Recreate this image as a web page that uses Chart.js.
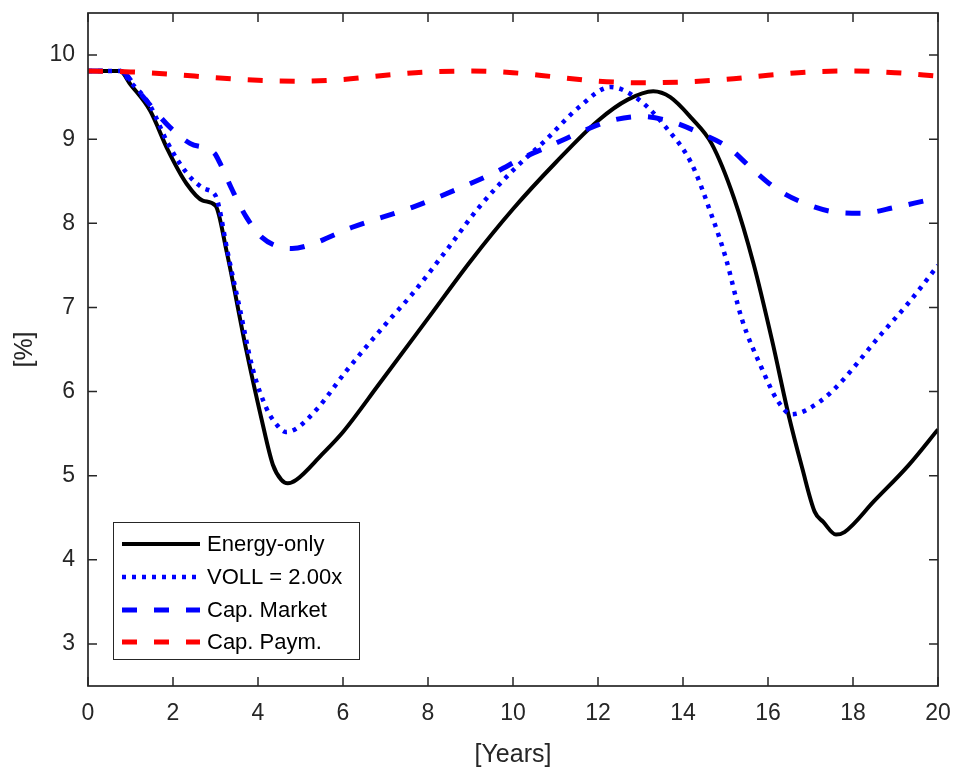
<!DOCTYPE html>
<html>
<head>
<meta charset="utf-8">
<script src="https://cdn.jsdelivr.net/npm/chart.js@4.4.0/dist/chart.umd.min.js"></script>
<style>
  html, body { margin: 0; padding: 0; background: #fff; }
  #wrap { width: 956px; height: 769px; }
</style>
</head>
<body>
<div id="wrap"><canvas id="marginChart" width="956" height="769"></canvas></div>
<script>
// x positions (years) and values (%) for each scenario
const energyOnlyX = [0, 0.75, 1.0, 1.46, 1.88, 2.32, 2.7, 3.0, 3.26, 3.73, 4.08, 4.35, 4.55, 4.7, 4.9, 5.5, 6.0, 6.85, 8, 9, 10, 11, 12, 12.7, 13.3, 13.7, 14.2, 14.67, 15.2, 15.66, 16.1, 16.48, 16.8, 17.1, 17.3, 17.6, 17.8, 18.5, 19.3, 20];
const energyOnlyY = [9.81, 9.81, 9.65, 9.34, 8.87, 8.47, 8.27, 8.21, 7.67, 6.48, 5.68, 5.13, 4.95, 4.91, 4.95, 5.25, 5.52, 6.09, 6.87, 7.55, 8.17, 8.72, 9.22, 9.47, 9.57, 9.5, 9.25, 8.95, 8.3, 7.52, 6.6, 5.73, 5.1, 4.57, 4.45, 4.30, 4.33, 4.7, 5.12, 5.55];

const vollX = [0, 0.75, 1.0, 1.46, 1.88, 2.32, 2.7, 3.0, 3.08, 3.28, 3.57, 3.87, 4.2, 4.45, 4.65, 4.9, 5.4, 6.07, 7.0, 7.63, 8.42, 9.2, 10.0, 10.77, 11.55, 12.3, 12.96, 13.6, 14.2, 14.67, 15.0, 15.38, 15.85, 16.24, 16.55, 16.9, 17.5, 18.66, 19.3, 20];
const vollY = [9.81, 9.81, 9.68, 9.40, 8.95, 8.6, 8.42, 8.33, 8.2, 7.67, 6.99, 6.28, 5.8, 5.6, 5.52, 5.56, 5.8, 6.24, 6.8, 7.16, 7.67, 8.19, 8.63, 8.99, 9.38, 9.62, 9.47, 9.14, 8.71, 8.1, 7.6, 6.87, 6.28, 5.88, 5.73, 5.78, 6.0, 6.68, 7.05, 7.5];

const capMarketX = [0, 0.75, 1.22, 1.93, 2.4, 2.98, 3.1, 3.4, 3.73, 4.1, 4.5, 4.8, 5.2, 6.2, 7.63, 8.8, 9.6, 10.2, 11.0, 11.8, 12.3, 13.0, 13.65, 14.37, 15.07, 15.6, 16.17, 16.8, 17.5, 18.2, 19.0, 19.8, 20];
const capMarketY = [9.81, 9.81, 9.55, 9.14, 8.95, 8.83, 8.72, 8.39, 8.07, 7.83, 7.72, 7.7, 7.74, 7.95, 8.19, 8.43, 8.61, 8.77, 8.95, 9.13, 9.22, 9.27, 9.22, 9.08, 8.9, 8.66, 8.42, 8.25, 8.14, 8.12, 8.19, 8.28, 8.3];

const capPaymX = [0, 1, 2, 3, 4, 5, 6, 7, 8, 9, 10, 11, 12, 13, 14, 15, 16, 17, 18, 19, 20];
const capPaymY = [9.81, 9.80, 9.77, 9.73, 9.70, 9.69, 9.71, 9.76, 9.80, 9.81, 9.79, 9.74, 9.69, 9.67, 9.68, 9.71, 9.76, 9.80, 9.81, 9.79, 9.75];

const seriesLabels = ["Energy-only", "VOLL = 2.00x", "Cap. Market", "Cap. Paym."];
const xTicks = [0, 2, 4, 6, 8, 10, 12, 14, 16, 18, 20];
const yTicks = [3, 4, 5, 6, 7, 8, 9, 10];

const FONT = "'Liberation Sans', Arial, Helvetica, sans-serif";
const AXIS_COLOR = "#262626";

function toPoints(xs, ys) {
    return xs.map((x, i) => ({ x: x, y: ys[i] }));
}

/* -------------------------
   BOX, INWARD TICKS, LEGEND
--------------------------*/

const boxPlugin = {
    id: "matlabBox",
    afterDatasetsDraw(chart) {
        const { ctx, chartArea: a, scales } = chart;
        const tl = 9;
        ctx.save();
        ctx.strokeStyle = AXIS_COLOR;
        ctx.lineWidth = 1.7;
        ctx.setLineDash([]);
        ctx.strokeRect(a.left, a.top, a.right - a.left, a.bottom - a.top);

        ctx.lineWidth = 1.5;
        ctx.beginPath();
        xTicks.forEach(v => {
            const px = scales.x.getPixelForValue(v);
            ctx.moveTo(px, a.bottom);
            ctx.lineTo(px, a.bottom - tl);
            ctx.moveTo(px, a.top);
            ctx.lineTo(px, a.top + tl);
        });
        yTicks.forEach(v => {
            const py = scales.y.getPixelForValue(v);
            ctx.moveTo(a.left, py);
            ctx.lineTo(a.left + tl, py);
            ctx.moveTo(a.right, py);
            ctx.lineTo(a.right - tl, py);
        });
        ctx.stroke();
        ctx.restore();
    },
    afterDraw(chart) {
        const { ctx } = chart;
        const box = { x: 113, y: 522, w: 246, h: 137 };
        ctx.save();
        ctx.fillStyle = "#fff";
        ctx.fillRect(box.x, box.y, box.w, box.h);
        ctx.strokeStyle = AXIS_COLOR;
        ctx.lineWidth = 1;
        ctx.setLineDash([]);
        ctx.strokeRect(box.x + 0.5, box.y + 0.5, box.w, box.h);

        const rowY = [544, 577, 610, 642];
        chart.data.datasets.forEach((ds, i) => {
            const y = rowY[i];
            ctx.beginPath();
            ctx.strokeStyle = ds.borderColor;
            ctx.lineWidth = ds.borderWidth;
            ctx.setLineDash(ds.borderDash || []);
            ctx.moveTo(122, y);
            ctx.lineTo(200, y);
            ctx.stroke();

            ctx.setLineDash([]);
            ctx.fillStyle = "#000";
            ctx.font = "22px " + FONT;
            ctx.textBaseline = "middle";
            ctx.textAlign = "left";
            ctx.fillText(ds.label, 207, y + 1);
        });
        ctx.restore();
    }
};

/* -------------------------
   CHART
--------------------------*/

const common = {
    pointRadius: 0,
    pointHoverRadius: 0,
    fill: false,
    cubicInterpolationMode: "monotone",
    borderCapStyle: "butt"
};

new Chart(document.getElementById("marginChart"), {
    type: "line",
    data: {
        datasets: [
            { ...common, label: seriesLabels[0], data: toPoints(energyOnlyX, energyOnlyY), borderColor: "#000000", borderWidth: 4, order: 3 },
            { ...common, label: seriesLabels[1], data: toPoints(vollX, vollY), borderColor: "#0000ff", borderWidth: 4.5, borderDash: [4, 6], order: 2 },
            { ...common, label: seriesLabels[2], data: toPoints(capMarketX, capMarketY), borderColor: "#0000ff", borderWidth: 5, borderDash: [15, 17], order: 1 },
            { ...common, label: seriesLabels[3], data: toPoints(capPaymX, capPaymY), borderColor: "#ff0000", borderWidth: 5, borderDash: [15, 17], order: 0 }
        ]
    },
    options: {
        responsive: false,
        animation: false,
        devicePixelRatio: 1,
        layout: { padding: { top: 13, right: 18, left: 0, bottom: 0 } },
        plugins: {
            legend: { display: false },
            tooltip: { enabled: false }
        },
        scales: {
            x: {
                type: "linear",
                min: 0,
                max: 20,
                afterBuildTicks: s => { s.ticks = xTicks.map(v => ({ value: v })); },
                afterFit: s => {
                    s.height = 83;
                    s.paddingLeft = 0;
                    s.paddingRight = 0;
                },
                grid: { display: false, drawTicks: false },
                border: { display: false },
                ticks: { color: AXIS_COLOR, padding: 14, font: { family: FONT, size: 23 } },
                title: {
                    display: true,
                    text: "[Years]",
                    color: AXIS_COLOR,
                    padding: { top: 0, bottom: 0 },
                    font: { family: FONT, size: 25, lineHeight: 1.12 }
                }
            },
            y: {
                min: 2.5,
                max: 10.5,
                afterBuildTicks: s => { s.ticks = yTicks.map(v => ({ value: v })); },
                afterFit: s => {
                    s.width = 88;
                    s.paddingTop = 0;
                    s.paddingBottom = 0;
                },
                grid: { display: false, drawTicks: false },
                border: { display: false },
                ticks: { color: AXIS_COLOR, padding: 13, font: { family: FONT, size: 23 } },
                title: {
                    display: true,
                    text: "[%]",
                    color: AXIS_COLOR,
                    padding: { top: 10, bottom: 0 },
                    font: { family: FONT, size: 25, lineHeight: 1.2 }
                }
            }
        }
    },
    plugins: [boxPlugin]
});
</script>
</body>
</html>
